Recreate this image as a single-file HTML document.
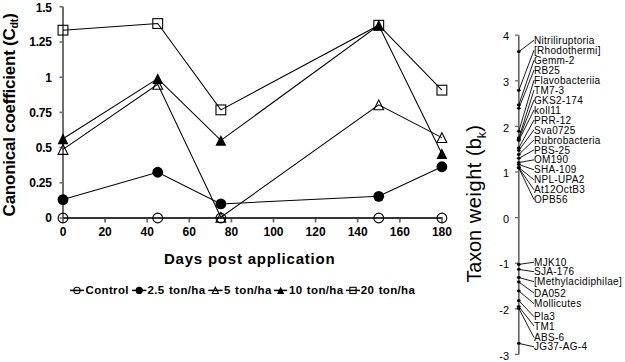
<!DOCTYPE html><html><head><meta charset="utf-8"><style>html,body{margin:0;padding:0;background:#fff;width:625px;height:362px;overflow:hidden}svg{display:block}text{font-family:"Liberation Sans",sans-serif}</style></head><body>
<svg width="625" height="362" viewBox="0 0 625 362">
<rect width="625" height="362" fill="#fff"/>
<line x1="63" y1="6.8" x2="63" y2="219.0" stroke="#6e6e6e" stroke-width="2"/>
<line x1="59.5" y1="218.0" x2="63" y2="218.0" stroke="#6e6e6e" stroke-width="1.6"/>
<text x="51.9" y="222.3" font-size="12" font-weight="bold" text-anchor="end" letter-spacing="-0.15">0</text>
<line x1="59.5" y1="182.8" x2="63" y2="182.8" stroke="#6e6e6e" stroke-width="1.6"/>
<text x="51.9" y="187.1" font-size="12" font-weight="bold" text-anchor="end" letter-spacing="-0.15">0.25</text>
<line x1="59.5" y1="147.6" x2="63" y2="147.6" stroke="#6e6e6e" stroke-width="1.6"/>
<text x="51.9" y="151.9" font-size="12" font-weight="bold" text-anchor="end" letter-spacing="-0.15">0.5</text>
<line x1="59.5" y1="112.4" x2="63" y2="112.4" stroke="#6e6e6e" stroke-width="1.6"/>
<text x="51.9" y="116.7" font-size="12" font-weight="bold" text-anchor="end" letter-spacing="-0.15">0.75</text>
<line x1="59.5" y1="77.2" x2="63" y2="77.2" stroke="#6e6e6e" stroke-width="1.6"/>
<text x="51.9" y="81.5" font-size="12" font-weight="bold" text-anchor="end" letter-spacing="-0.15">1</text>
<line x1="59.5" y1="42.0" x2="63" y2="42.0" stroke="#6e6e6e" stroke-width="1.6"/>
<text x="51.9" y="46.3" font-size="12" font-weight="bold" text-anchor="end" letter-spacing="-0.15">1.25</text>
<line x1="59.5" y1="6.8" x2="63" y2="6.8" stroke="#6e6e6e" stroke-width="1.6"/>
<text x="51.9" y="12.4" font-size="12" font-weight="bold" text-anchor="end" letter-spacing="-0.15">1.5</text>
<line x1="62" y1="218.0" x2="442.9" y2="218.0" stroke="#6e6e6e" stroke-width="2"/>
<line x1="63.0" y1="218.0" x2="63.0" y2="222.5" stroke="#6e6e6e" stroke-width="1.8"/>
<text x="63.0" y="236.4" font-size="12" font-weight="bold" text-anchor="middle">0</text>
<line x1="105.1" y1="218.0" x2="105.1" y2="222.5" stroke="#6e6e6e" stroke-width="1.8"/>
<text x="105.1" y="236.4" font-size="12" font-weight="bold" text-anchor="middle">20</text>
<line x1="147.2" y1="218.0" x2="147.2" y2="222.5" stroke="#6e6e6e" stroke-width="1.8"/>
<text x="147.2" y="236.4" font-size="12" font-weight="bold" text-anchor="middle">40</text>
<line x1="189.3" y1="218.0" x2="189.3" y2="222.5" stroke="#6e6e6e" stroke-width="1.8"/>
<text x="189.3" y="236.4" font-size="12" font-weight="bold" text-anchor="middle">60</text>
<line x1="231.4" y1="218.0" x2="231.4" y2="222.5" stroke="#6e6e6e" stroke-width="1.8"/>
<text x="231.4" y="236.4" font-size="12" font-weight="bold" text-anchor="middle">80</text>
<line x1="273.5" y1="218.0" x2="273.5" y2="222.5" stroke="#6e6e6e" stroke-width="1.8"/>
<text x="273.5" y="236.4" font-size="12" font-weight="bold" text-anchor="middle">100</text>
<line x1="315.6" y1="218.0" x2="315.6" y2="222.5" stroke="#6e6e6e" stroke-width="1.8"/>
<text x="315.6" y="236.4" font-size="12" font-weight="bold" text-anchor="middle">120</text>
<line x1="357.7" y1="218.0" x2="357.7" y2="222.5" stroke="#6e6e6e" stroke-width="1.8"/>
<text x="357.7" y="236.4" font-size="12" font-weight="bold" text-anchor="middle">140</text>
<line x1="399.8" y1="218.0" x2="399.8" y2="222.5" stroke="#6e6e6e" stroke-width="1.8"/>
<text x="399.8" y="236.4" font-size="12" font-weight="bold" text-anchor="middle">160</text>
<line x1="441.9" y1="218.0" x2="441.9" y2="222.5" stroke="#6e6e6e" stroke-width="1.8"/>
<text x="441.9" y="236.4" font-size="12" font-weight="bold" text-anchor="middle">180</text>
<polyline points="63.00,218.00 157.72,218.00 220.88,218.00 378.75,218.00 441.90,218.00" fill="none" stroke="#000" stroke-width="1.05"/>
<polyline points="63.00,199.56 157.72,172.24 220.88,203.92 378.75,196.32 441.90,166.75" fill="none" stroke="#000" stroke-width="1.05"/>
<polyline points="63.00,149.43 157.72,84.38 220.88,217.30 378.75,104.80 441.90,137.60" fill="none" stroke="#000" stroke-width="1.05"/>
<polyline points="63.00,138.73 157.72,78.61 220.88,140.42 378.75,25.24 441.90,153.65" fill="none" stroke="#000" stroke-width="1.05"/>
<polyline points="63.00,30.17 157.72,23.56 220.88,109.87 378.75,25.24 441.90,90.15" fill="none" stroke="#000" stroke-width="1.05"/>
<circle cx="63.00" cy="218.00" r="4.90" fill="none" stroke="#000" stroke-width="1.1"/>
<circle cx="157.72" cy="218.00" r="4.90" fill="none" stroke="#000" stroke-width="1.1"/>
<circle cx="220.88" cy="218.00" r="4.90" fill="none" stroke="#000" stroke-width="1.1"/>
<circle cx="378.75" cy="218.00" r="4.90" fill="none" stroke="#000" stroke-width="1.1"/>
<circle cx="441.90" cy="218.00" r="4.90" fill="none" stroke="#000" stroke-width="1.1"/>
<circle cx="63.00" cy="199.56" r="5.40" fill="#000"/>
<circle cx="157.72" cy="172.24" r="5.40" fill="#000"/>
<circle cx="220.88" cy="203.92" r="5.40" fill="#000"/>
<circle cx="378.75" cy="196.32" r="5.40" fill="#000"/>
<circle cx="441.90" cy="166.75" r="5.40" fill="#000"/>
<path d="M63.00 144.53L67.90 154.33L58.10 154.33Z" fill="none" stroke="#000" stroke-width="1.1" stroke-linejoin="miter"/>
<path d="M157.72 79.48L162.62 89.28L152.82 89.28Z" fill="none" stroke="#000" stroke-width="1.1" stroke-linejoin="miter"/>
<path d="M220.88 212.40L225.78 222.20L215.97 222.20Z" fill="none" stroke="#000" stroke-width="1.1" stroke-linejoin="miter"/>
<path d="M378.75 99.90L383.65 109.70L373.85 109.70Z" fill="none" stroke="#000" stroke-width="1.1" stroke-linejoin="miter"/>
<path d="M441.90 132.70L446.80 142.50L437.00 142.50Z" fill="none" stroke="#000" stroke-width="1.1" stroke-linejoin="miter"/>
<path d="M63.00 133.33L68.40 144.13L57.60 144.13Z" fill="#000"/>
<path d="M157.72 73.21L163.12 84.01L152.32 84.01Z" fill="#000"/>
<path d="M220.88 135.02L226.28 145.82L215.47 145.82Z" fill="#000"/>
<path d="M378.75 19.84L384.15 30.64L373.35 30.64Z" fill="#000"/>
<path d="M441.90 148.25L447.30 159.05L436.50 159.05Z" fill="#000"/>
<rect x="58.10" y="25.27" width="9.80" height="9.80" fill="none" stroke="#000" stroke-width="1.1"/>
<rect x="152.82" y="18.66" width="9.80" height="9.80" fill="none" stroke="#000" stroke-width="1.1"/>
<rect x="215.97" y="104.97" width="9.80" height="9.80" fill="none" stroke="#000" stroke-width="1.1"/>
<rect x="373.85" y="20.34" width="9.80" height="9.80" fill="none" stroke="#000" stroke-width="1.1"/>
<rect x="437.00" y="85.25" width="9.80" height="9.80" fill="none" stroke="#000" stroke-width="1.1"/>
<text x="164" y="263.8" font-size="15" font-weight="bold" letter-spacing="0.78">Days post application</text>
<text transform="rotate(-90)" x="-216.4" y="14.5" font-size="17" font-weight="bold" letter-spacing="-0.24">Canonical coefficient (C<tspan font-size="10.5" dy="3">dt</tspan><tspan dy="-3" dx="0.2">)</tspan></text>
<circle cx="77.00" cy="290.40" r="3.10" fill="none" stroke="#000" stroke-width="1.1"/>
<line x1="70" y1="290.4" x2="84" y2="290.4" stroke="#000" stroke-width="1.5"/>
<text x="85.5" y="294.2" font-size="11.5" font-weight="bold" letter-spacing="0.35" word-spacing="0.8">Control</text>
<circle cx="139.20" cy="290.40" r="3.60" fill="#000"/>
<line x1="132" y1="290.4" x2="146.4" y2="290.4" stroke="#000" stroke-width="1.5"/>
<text x="147.5" y="294.2" font-size="11.5" font-weight="bold" letter-spacing="0.35" word-spacing="0.8">2.5 ton/ha</text>
<path d="M215.40 287.30L218.50 293.50L212.30 293.50Z" fill="none" stroke="#000" stroke-width="1.1" stroke-linejoin="miter"/>
<line x1="208.2" y1="290.4" x2="222.6" y2="290.4" stroke="#000" stroke-width="1.5"/>
<text x="224" y="294.2" font-size="11.5" font-weight="bold" letter-spacing="0.35" word-spacing="0.8">5 ton/ha</text>
<path d="M280.65 286.80L284.25 294.00L277.05 294.00Z" fill="#000"/>
<line x1="274.1" y1="290.4" x2="287.2" y2="290.4" stroke="#000" stroke-width="1.5"/>
<text x="289" y="294.2" font-size="11.5" font-weight="bold" letter-spacing="0.35" word-spacing="0.8">10 ton/ha</text>
<rect x="349.90" y="287.30" width="6.20" height="6.20" fill="none" stroke="#000" stroke-width="1.1"/>
<line x1="346" y1="290.4" x2="360" y2="290.4" stroke="#000" stroke-width="1.5"/>
<text x="360.8" y="294.2" font-size="11.5" font-weight="bold" letter-spacing="0.35" word-spacing="0.8">20 ton/ha</text>
<line x1="518.8" y1="35.2" x2="518.8" y2="354.4" stroke="#6a6a6a" stroke-width="1.7"/>
<line x1="515" y1="354.4" x2="518.8" y2="354.4" stroke="#6a6a6a" stroke-width="1.3"/>
<text x="509.1" y="359.5" font-size="11" text-anchor="end">-3</text>
<line x1="515" y1="308.8" x2="518.8" y2="308.8" stroke="#6a6a6a" stroke-width="1.3"/>
<text x="509.1" y="313.9" font-size="11" text-anchor="end">-2</text>
<line x1="515" y1="263.2" x2="518.8" y2="263.2" stroke="#6a6a6a" stroke-width="1.3"/>
<text x="509.1" y="268.3" font-size="11" text-anchor="end">-1</text>
<line x1="515" y1="217.6" x2="518.8" y2="217.6" stroke="#6a6a6a" stroke-width="1.3"/>
<text x="509.1" y="222.7" font-size="11" text-anchor="end">0</text>
<line x1="515" y1="172.0" x2="518.8" y2="172.0" stroke="#6a6a6a" stroke-width="1.3"/>
<text x="509.1" y="177.1" font-size="11" text-anchor="end">1</text>
<line x1="515" y1="126.4" x2="518.8" y2="126.4" stroke="#6a6a6a" stroke-width="1.3"/>
<text x="509.1" y="131.5" font-size="11" text-anchor="end">2</text>
<line x1="515" y1="80.8" x2="518.8" y2="80.8" stroke="#6a6a6a" stroke-width="1.3"/>
<text x="509.1" y="85.9" font-size="11" text-anchor="end">3</text>
<line x1="515" y1="35.2" x2="518.8" y2="35.2" stroke="#6a6a6a" stroke-width="1.3"/>
<text x="509.1" y="40.3" font-size="11" text-anchor="end">4</text>
<g transform="rotate(-90)" font-size="20"><text x="-282.6" y="480.6" letter-spacing="-0.15">Taxon</text><text x="-223.2" y="480.6" letter-spacing="0.55">weight</text><text x="-156" y="480.6">(b<tspan font-size="13" dy="5.5">k</tspan><tspan dy="-5.5">)</tspan></text></g>
<line x1="518.8" y1="51.7" x2="534" y2="40.2" stroke="#000" stroke-width="0.9"/>
<ellipse cx="518.8" cy="51.7" rx="1.9" ry="1.4" fill="#000"/>
<text x="534" y="43.8" font-size="10" letter-spacing="0.3">Nitriliruptoria</text>
<line x1="518.8" y1="90.4" x2="534" y2="50.2" stroke="#000" stroke-width="0.9"/>
<ellipse cx="518.8" cy="90.4" rx="1.9" ry="1.4" fill="#000"/>
<text x="534" y="53.8" font-size="10" letter-spacing="0.3">[Rhodothermi]</text>
<line x1="518.8" y1="105.0" x2="534" y2="60.1" stroke="#000" stroke-width="0.9"/>
<ellipse cx="518.8" cy="105.0" rx="1.9" ry="1.4" fill="#000"/>
<text x="534" y="63.7" font-size="10" letter-spacing="0.3">Gemm-2</text>
<line x1="518.8" y1="108.3" x2="534" y2="70.1" stroke="#000" stroke-width="0.9"/>
<ellipse cx="518.8" cy="108.3" rx="1.9" ry="1.4" fill="#000"/>
<text x="534" y="73.7" font-size="10" letter-spacing="0.3">RB25</text>
<line x1="518.8" y1="131.3" x2="534" y2="80.1" stroke="#000" stroke-width="0.9"/>
<ellipse cx="518.8" cy="131.3" rx="1.9" ry="1.4" fill="#000"/>
<text x="534" y="83.7" font-size="10" letter-spacing="0.3">Flavobacteriia</text>
<line x1="518.8" y1="138.0" x2="534" y2="90.1" stroke="#000" stroke-width="0.9"/>
<ellipse cx="518.8" cy="138.0" rx="1.9" ry="1.4" fill="#000"/>
<text x="534" y="93.7" font-size="10" letter-spacing="0.3">TM7-3</text>
<line x1="518.8" y1="139.3" x2="534" y2="100.0" stroke="#000" stroke-width="0.9"/>
<ellipse cx="518.8" cy="139.3" rx="1.9" ry="1.4" fill="#000"/>
<text x="534" y="103.6" font-size="10" letter-spacing="0.3">GKS2-174</text>
<line x1="518.8" y1="140.4" x2="534" y2="110.0" stroke="#000" stroke-width="0.9"/>
<ellipse cx="518.8" cy="140.4" rx="1.9" ry="1.4" fill="#000"/>
<text x="534" y="113.6" font-size="10" letter-spacing="0.3">koll11</text>
<line x1="518.8" y1="147.9" x2="534" y2="120.0" stroke="#000" stroke-width="0.9"/>
<ellipse cx="518.8" cy="147.9" rx="1.9" ry="1.4" fill="#000"/>
<text x="534" y="123.6" font-size="10" letter-spacing="0.3">PRR-12</text>
<line x1="518.8" y1="150.4" x2="534" y2="129.9" stroke="#000" stroke-width="0.9"/>
<ellipse cx="518.8" cy="150.4" rx="1.9" ry="1.4" fill="#000"/>
<text x="534" y="133.5" font-size="10" letter-spacing="0.3">Sva0725</text>
<line x1="518.8" y1="154.5" x2="534" y2="139.9" stroke="#000" stroke-width="0.9"/>
<ellipse cx="518.8" cy="154.5" rx="1.9" ry="1.4" fill="#000"/>
<text x="534" y="143.5" font-size="10" letter-spacing="0.3">Rubrobacteria</text>
<line x1="518.8" y1="158.3" x2="534" y2="149.9" stroke="#000" stroke-width="0.9"/>
<ellipse cx="518.8" cy="158.3" rx="1.9" ry="1.4" fill="#000"/>
<text x="534" y="153.5" font-size="10" letter-spacing="0.3">PBS-25</text>
<line x1="518.8" y1="162.6" x2="534" y2="159.8" stroke="#000" stroke-width="0.9"/>
<ellipse cx="518.8" cy="162.6" rx="1.9" ry="1.4" fill="#000"/>
<text x="534" y="163.4" font-size="10" letter-spacing="0.3">OM190</text>
<line x1="518.8" y1="164.5" x2="534" y2="169.8" stroke="#000" stroke-width="0.9"/>
<ellipse cx="518.8" cy="164.5" rx="1.9" ry="1.4" fill="#000"/>
<text x="534" y="173.4" font-size="10" letter-spacing="0.3">SHA-109</text>
<line x1="518.8" y1="167.6" x2="534" y2="179.8" stroke="#000" stroke-width="0.9"/>
<ellipse cx="518.8" cy="167.6" rx="1.9" ry="1.4" fill="#000"/>
<text x="534" y="183.4" font-size="10" letter-spacing="0.3">NPL-UPA2</text>
<line x1="518.8" y1="167.8" x2="534" y2="189.8" stroke="#000" stroke-width="0.9"/>
<ellipse cx="518.8" cy="167.8" rx="1.9" ry="1.4" fill="#000"/>
<text x="534" y="193.3" font-size="10" letter-spacing="0.3">At12OctB3</text>
<line x1="518.8" y1="168.0" x2="534" y2="199.7" stroke="#000" stroke-width="0.9"/>
<ellipse cx="518.8" cy="168.0" rx="1.9" ry="1.4" fill="#000"/>
<text x="534" y="203.3" font-size="10" letter-spacing="0.3">OPB56</text>
<line x1="518.8" y1="264.4" x2="534" y2="262.2" stroke="#000" stroke-width="0.9"/>
<ellipse cx="518.8" cy="264.4" rx="1.9" ry="1.4" fill="#000"/>
<text x="534" y="265.8" font-size="10" letter-spacing="0.3">MJK10</text>
<line x1="518.8" y1="269.4" x2="534" y2="271.7" stroke="#000" stroke-width="0.9"/>
<ellipse cx="518.8" cy="269.4" rx="1.9" ry="1.4" fill="#000"/>
<text x="534" y="275.3" font-size="10" letter-spacing="0.3">SJA-176</text>
<line x1="518.8" y1="277.5" x2="534" y2="281.7" stroke="#000" stroke-width="0.9"/>
<ellipse cx="518.8" cy="277.5" rx="1.9" ry="1.4" fill="#000"/>
<text x="534" y="285.3" font-size="10" letter-spacing="0.3">[Methylacidiphilae]</text>
<line x1="518.8" y1="282.0" x2="534" y2="293.1" stroke="#000" stroke-width="0.9"/>
<ellipse cx="518.8" cy="282.0" rx="1.9" ry="1.4" fill="#000"/>
<text x="534" y="296.7" font-size="10" letter-spacing="0.3">DA052</text>
<line x1="518.8" y1="291.0" x2="534" y2="303.7" stroke="#000" stroke-width="0.9"/>
<ellipse cx="518.8" cy="291.0" rx="1.9" ry="1.4" fill="#000"/>
<text x="534" y="307.3" font-size="10" letter-spacing="0.3">Mollicutes</text>
<line x1="518.8" y1="300.7" x2="534" y2="316.7" stroke="#000" stroke-width="0.9"/>
<ellipse cx="518.8" cy="300.7" rx="1.9" ry="1.4" fill="#000"/>
<text x="534" y="320.3" font-size="10" letter-spacing="0.3">Pla3</text>
<line x1="518.8" y1="306.6" x2="534" y2="326.0" stroke="#000" stroke-width="0.9"/>
<ellipse cx="518.8" cy="306.6" rx="1.9" ry="1.4" fill="#000"/>
<text x="534" y="329.6" font-size="10" letter-spacing="0.3">TM1</text>
<line x1="518.8" y1="308.4" x2="534" y2="337.7" stroke="#000" stroke-width="0.9"/>
<ellipse cx="518.8" cy="308.4" rx="1.9" ry="1.4" fill="#000"/>
<text x="534" y="341.3" font-size="10" letter-spacing="0.3">ABS-6</text>
<line x1="518.8" y1="343.4" x2="534" y2="346.8" stroke="#000" stroke-width="0.9"/>
<ellipse cx="518.8" cy="343.4" rx="1.9" ry="1.4" fill="#000"/>
<text x="534" y="350.4" font-size="10" letter-spacing="0.3">JG37-AG-4</text>
</svg></body></html>
